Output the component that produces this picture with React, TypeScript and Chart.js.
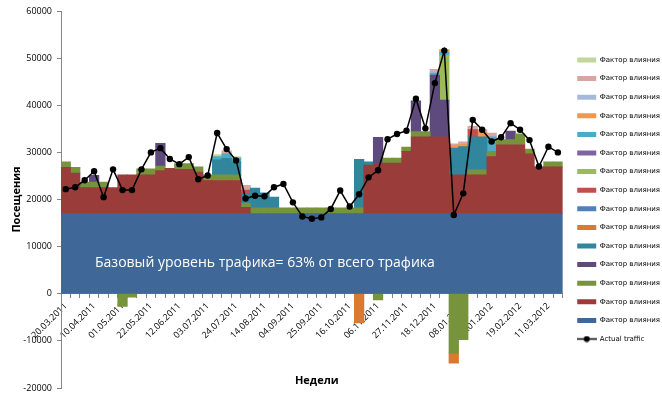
import React, { useEffect, useRef } from 'react';
import { Chart, registerables } from 'chart.js';

Chart.register(...registerables);

// ---------- DATA ----------
const weeks = [
  '20.03.2011', '27.03.2011', '03.04.2011', '10.04.2011', '17.04.2011', '24.04.2011', '01.05.2011', '08.05.2011', '15.05.2011', '22.05.2011',
  '29.05.2011', '05.06.2011', '12.06.2011', '19.06.2011', '26.06.2011', '03.07.2011', '10.07.2011', '17.07.2011', '24.07.2011', '31.07.2011',
  '07.08.2011', '14.08.2011', '21.08.2011', '28.08.2011', '04.09.2011', '11.09.2011', '18.09.2011', '25.09.2011', '02.10.2011', '09.10.2011',
  '16.10.2011', '23.10.2011', '30.10.2011', '06.11.2011', '13.11.2011', '20.11.2011', '27.11.2011', '04.12.2011', '11.12.2011', '18.12.2011',
  '25.12.2011', '01.01.2012', '08.01.2012', '15.01.2012', '22.01.2012', '29.01.2012', '05.02.2012', '12.02.2012', '19.02.2012', '26.02.2012',
  '04.03.2012', '11.03.2012', '18.03.2012',
];

const actualTraffic = [
  22200, 22600, 24100, 26000, 20500, 26400, 22000, 22000, 26400, 30000,
  30900, 28600, 27500, 29000, 24300, 25100, 34100, 30700, 28300, 20200,
  20800, 20700, 22600, 23300, 19400, 16400, 15900, 16200, 18000, 21900,
  18500, 21100, 24700, 26200, 32800, 33900, 34600, 41400, 35100, 44700,
  51600, 16700, 21300, 36900, 34800, 32300, 33200, 36200, 34800, 32600,
  27000, 31200, 30000,
];

const baseTraffic = [
  17000, 17000, 17000, 17000, 17000, 17000, 17000, 17000, 17000, 17000,
  17000, 17000, 17000, 17000, 17000, 17000, 17000, 17000, 17000, 17000,
  17000, 17000, 17000, 17000, 17000, 17000, 17000, 17000, 17000, 17000,
  17000, 17000, 17000, 17000, 17000, 17000, 17000, 17000, 17000, 17000,
  17000, 17000, 17000, 17000, 17000, 17000, 17000, 17000, 17000, 17000,
  17000, 17000, 17000,
];

const factor1 = [
  9800, 8600, 5500, 5500, 5500, 5500, 8200, 8200, 8200, 8200,
  9100, 9600, 9400, 9400, 8800, 7000, 7000, 7000, 7000, 1300,
  0, 0, 0, 0, 0, 0, 0, 0, 0, 0,
  0, 0, 10300, 10600, 10700, 10700, 13200, 16300, 16300, 16300,
  16300, 8200, 8200, 8200, 8200, 12100, 14600, 14600, 14600, 12700,
  9900, 9900, 9900,
];

const factor2 = [
  1200, 1200, 1200, 1200, 1200, 0, -2700, -700, 1300, 1300,
  1000, 0, 1200, 1200, 1100, 1200, 1200, 1200, 1200, 900,
  1200, 1200, 1200, 1200, 1200, 1200, 1200, 1200, 1200, 1200,
  1200, 1200, 0, -1300, 1100, 1100, 900, 1100, 1100, 0,
  0, -12600, -9750, 1100, 1100, 1100, 1100, 1100, 2300, 1000,
  0, 1100, 1100,
];

const factor3 = [
  0, 0, 0, 1400, 0, 0, 0, 0, 0, 0,
  4800, 0, 0, 0, 0, 0, 0, 0, 0, 0,
  0, 0, 0, 0, 0, 0, 0, 0, 0, 0,
  0, 0, 0, 5600, 0, 0, 0, 6500, 0, 13100,
  7800, 0, 0, 0, 0, 0, 0, 1800, 0, 0,
  0, 0, 0,
];

const factor4 = [
  0, 0, 0, 0, 0, 0, 0, 0, 0, 0,
  0, 0, 0, 0, 0, 0, 3200, 3500, 2800, 2100,
  4200, 3200, 2300, 0, 0, 0, 0, 0, 0, 0,
  0, 10300, 700, 0, 0, 0, 0, 0, 0, 0,
  0, 5700, 6000, 7000, 7000, 0, 0, 0, 0, 0,
  0, 0, 0,
];

const factor5 = [
  0, 0, 0, 0, 0, 0, 0, 0, 0, 0,
  0, 0, 0, 0, 0, 0, 0, 0, 0, 0,
  0, 0, 0, 0, 0, 0, 0, 0, 0, 0,
  0, -6200, 0, 0, 0, 0, 0, 0, 0, 0,
  0, -2100, 0, 0, 0, 0, 0, 0, 0, 0,
  0, 0, 0,
];

const factor6 = [
  0, 0, 0, 0, 0, 0, 0, 0, 0, 0,
  0, 0, 0, 0, 0, 0, 0, 0, 0, 0,
  0, 0, 0, 0, 0, 0, 0, 0, 0, 0,
  0, 0, 0, 0, 0, 0, 0, 0, 0, 0,
  0, 0, 0, 0, 0, 0, 0, 0, 0, 0,
  0, 0, 0,
];

const factor7 = [
  0, 0, 0, 0, 0, 0, 0, 0, 0, 0,
  0, 0, 0, 0, 0, 0, 0, 0, 0, 700,
  0, 0, 0, 0, 0, 0, 0, 0, 0, 0,
  0, 0, 0, 0, 0, 0, 0, 0, 0, 0,
  0, 0, 0, 1500, 0, 0, 0, 0, 0, 0,
  0, 0, 0,
];

const factor8 = [
  0, 0, 0, 0, 0, 0, 0, 0, 0, 0,
  0, 0, 0, 0, 0, 0, 0, 0, 0, 0,
  0, 0, 0, 0, 0, 0, 0, 0, 0, 0,
  0, 0, 0, 0, 0, 0, 0, 0, 0, 0,
  9500, 0, 0, 0, 0, 0, 0, 0, 0, 0,
  0, 0, 0,
];

const factor9 = [
  0, 0, 0, 0, 0, 0, 0, 0, 0, 0,
  0, 0, 0, 0, 0, 0, 0, 0, 0, 0,
  0, 0, 0, 0, 0, 0, 0, 0, 0, 0,
  0, 0, 0, 0, 0, 0, 0, 0, 0, 0,
  0, 0, 0, 0, 0, 0, 0, 0, 0, 0,
  0, 0, 0,
];

const factor10 = [
  0, 0, 0, 0, 0, 0, 0, 0, 0, 0,
  0, 0, 0, 0, 0, 0, 700, 1000, 800, 0,
  0, 0, 0, 0, 0, 0, 0, 0, 0, 0,
  0, 0, 0, 0, 0, 0, 0, 0, 0, 400,
  600, 0, 0, 0, 0, 3100, 0, 0, 0, 0,
  0, 0, 0,
];

const factor11 = [
  0, 0, 0, 0, 0, 0, 0, 0, 0, 0,
  0, 0, 0, 0, 0, 0, 0, 0, 0, 0,
  0, 0, 0, 0, 0, 0, 0, 0, 0, 0,
  0, 0, 0, 0, 0, 0, 0, 0, 0, 0,
  600, 600, 500, 0, 1000, 0, 0, 0, 0, 0,
  0, 0, 0,
];

const factor12 = [
  0, 0, 0, 0, 0, 0, 0, 0, 0, 0,
  0, 0, 0, 0, 0, 0, 0, 0, 0, 0,
  0, 0, 0, 0, 0, 0, 0, 0, 0, 0,
  0, 0, 0, 0, 0, 0, 0, 0, 0, 300,
  0, 0, 0, 0, 0, 0, 0, 0, 0, 0,
  0, 0, 0,
];

const factor13 = [
  0, 0, 0, 0, 0, 0, 0, 0, 0, 0,
  0, 0, 0, 0, 0, 0, 0, 600, 0, 1000,
  0, 0, 0, 0, 0, 0, 0, 0, 0, 0,
  0, 0, 0, 0, 0, 0, 0, 0, 0, 500,
  0, 300, 500, 700, 500, 800, 0, 0, 0, 0,
  0, 0, 0,
];

const factor14 = [
  0, 0, 0, 0, 0, 0, 0, 0, 0, 0,
  0, 0, 0, 0, 0, 0, 400, 0, 300, 0,
  0, 0, 0, 0, 0, 0, 0, 0, 0, 0,
  0, 0, 0, 0, 0, 0, 0, 0, 0, 0,
  0, 0, 0, 0, 0, 0, 0, 0, 0, 0,
  0, 0, 0,
];

const factorLabel = 'Фактор влияния';
const lineLabel = 'Actual traffic';
const yTitle = 'Посещения';
const xTitle = 'Недели';
const baseNote = 'Базовый уровень трафика= 63% от всего трафика';
const yTickValues = [-20000, -10000, 0, 10000, 20000, 30000, 40000, 50000, 60000];

// stack order: bottom first
const stackSeries = [
  baseTraffic, factor1, factor2, factor3, factor4, factor5, factor6, factor7,
  factor8, factor9, factor10, factor11, factor12, factor13, factor14,
];

// ---------- STYLE ----------
const seriesColors = [
  '#3F6797', '#9A3C3A', '#77933C', '#5F4A7E', '#31859C', '#DA7A30', '#4F81BD', '#C0504D',
  '#9BBB59', '#8064A2', '#4BACC6', '#F79646', '#A7B9DA', '#D7A5A4', '#C3D69B',
];

const SANS = '"Open Sans", "Noto Sans", sans-serif';
const LEGEND_FAMILY = '"DejaVu Sans", sans-serif';
const LEGEND_SIZE = 7;

export default function App() {
  const canvasRef = useRef<HTMLCanvasElement | null>(null);

  useEffect(() => {
    document.body.style.margin = '0';
    const canvas = canvasRef.current!;
    const mctx = canvas.getContext('2d')!;
    mctx.font = `normal ${LEGEND_SIZE}px ${LEGEND_FAMILY}`;
    const textW = Math.max(mctx.measureText(factorLabel).width, mctx.measureText(lineLabel).width);
    const W = Math.ceil(609.5 + textW);
    canvas.width = W;
    canvas.height = 397;
    canvas.style.width = W + 'px';
    canvas.style.height = '397px';

    // fit the note font to the reference width
    mctx.font = `normal 14px ${SANS}`;
    const noteSize = Math.max(11, Math.min(17, (14 * 340) / mctx.measureText(baseNote).width));

    const lineIcon = document.createElement('canvas');
    lineIcon.width = 20;
    lineIcon.height = 7;
    const lctx = lineIcon.getContext('2d')!;
    lctx.strokeStyle = '#000';
    lctx.lineWidth = 1.5;
    lctx.beginPath();
    lctx.moveTo(0, 3.5);
    lctx.lineTo(20, 3.5);
    lctx.stroke();
    lctx.fillStyle = '#000';
    lctx.beginPath();
    lctx.arc(10, 3.5, 3, 0, Math.PI * 2);
    lctx.fill();

    const barDatasets = stackSeries.map((values, i) => ({
      type: 'bar' as const,
      label: factorLabel,
      data: values.map((v) => (v === 0 ? null : v)),
      backgroundColor: seriesColors[i],
      borderWidth: 0,
      barPercentage: 1,
      categoryPercentage: 1,
      stack: 'factors',
      inflateAmount: 0.4,
    }));

    const lineDataset = {
      type: 'line' as const,
      label: lineLabel,
      data: actualTraffic,
      borderColor: '#000',
      backgroundColor: '#000',
      borderWidth: 1.5,
      pointRadius: 3.2,
      pointBackgroundColor: '#000',
      pointBorderWidth: 0,
      tension: 0,
      fill: false,
    };

    const textPlugin = {
      id: 'extraTexts',
      afterDatasetsDraw(chart: any) {
        const { ctx, chartArea, scales } = chart;
        ctx.save();
        ctx.fillStyle = '#ffffff';
        ctx.font = `normal ${noteSize}px ${SANS}`;
        ctx.textAlign = 'left';
        ctx.textBaseline = 'middle';
        ctx.fillText(baseNote, chartArea.left + 34, scales.y.getPixelForValue(6600));
        ctx.fillStyle = '#000';
        ctx.font = `bold 11px ${SANS}`;
        ctx.textAlign = 'center';
        ctx.fillText(xTitle, (chartArea.left + chartArea.right) / 2 + 5, chartArea.bottom - 7);
        ctx.restore();
      },
    };

    const chart = new Chart(canvas, {
      type: 'bar',
      data: {
        labels: weeks,
        datasets: [lineDataset as any, ...barDatasets],
      },
      plugins: [textPlugin],
      options: {
        responsive: false,
        maintainAspectRatio: false,
        animation: false,
        devicePixelRatio: 1,
        events: [],
        layout: { padding: { left: 0, right: 0, top: 11, bottom: 9 } },
        scales: {
          x: {
            type: 'category',
            stacked: true,
            offset: true,
            position: { y: 0 } as any,
            grid: {
              display: true,
              drawOnChartArea: false,
              drawTicks: true,
              tickLength: 4,
              color: '#868686',
              offset: true,
            },
            border: { display: true, color: '#868686', width: 1 },
            ticks: {
              autoSkip: false,
              minRotation: 45,
              maxRotation: 45,
              padding: 3,
              color: '#000',
              font: { family: SANS, size: 9 },
              callback: (_v: any, i: number) => (i % 3 === 0 ? weeks[i] : ''),
            },
            afterFit: (s: any) => {
              s.height = 0;
            },
          },
          y: {
            type: 'linear',
            stacked: true,
            min: -20000,
            max: 60000,
            afterBuildTicks: (s: any) => {
              s.ticks = yTickValues.map((v) => ({ value: v }));
            },
            ticks: {
              color: '#000',
              padding: 5,
              font: { family: SANS, size: 9 },
              callback: (v: any) => String(v),
            },
            grid: {
              drawOnChartArea: false,
              drawTicks: true,
              tickLength: 4,
              color: '#868686',
            },
            border: { display: true, color: '#868686', width: 1 },
            title: {
              display: true,
              text: yTitle,
              color: '#000',
              font: { family: SANS, size: 11, weight: 'bold' },
              padding: { top: 10, bottom: 0 },
            },
            afterFit: (s: any) => {
              s.width = 61;
              s.paddingTop = 0;
              s.paddingBottom = 0;
            },
          },
          yR: {
            type: 'linear',
            position: 'right',
            display: true,
            grid: { display: false, drawTicks: false },
            ticks: { display: false },
            border: { display: false },
            afterFit: (s: any) => {
              s.width = 3;
              s.paddingTop = 0;
              s.paddingBottom = 0;
            },
          },
        },
        plugins: {
          tooltip: { enabled: false },
          title: { display: false },
          legend: {
            display: true,
            position: 'right',
            align: 'center',
            labels: {
              usePointStyle: true,
              pointStyleWidth: 19,
              boxHeight: 5,
              padding: 11.6,
              color: '#000',
              font: { family: LEGEND_FAMILY, size: LEGEND_SIZE },
              generateLabels: (ch: any) => {
                const ds = ch.data.datasets;
                const items: any[] = [];
                for (let i = ds.length - 1; i >= 0; i--) {
                  if (ds[i].type === 'line') continue;
                  items.push({
                    text: ds[i].label,
                    fillStyle: ds[i].backgroundColor,
                    strokeStyle: ds[i].backgroundColor,
                    lineWidth: 0,
                    pointStyle: 'rect',
                    hidden: false,
                    datasetIndex: i,
                    fontColor: '#000',
                  });
                }
                items.push({
                  text: lineLabel,
                  fillStyle: '#000',
                  strokeStyle: '#000',
                  lineWidth: 0,
                  pointStyle: lineIcon,
                  hidden: false,
                  datasetIndex: 0,
                  fontColor: '#000',
                });
                return items;
              },
            },
          },
        },
      },
    });

    return () => {
      chart.destroy();
    };
  }, []);

  return (
    <div style={{ width: 662, height: 397, overflow: 'hidden', position: 'relative' }}>
      <canvas ref={canvasRef} style={{ display: 'block' }} />
    </div>
  );
}
